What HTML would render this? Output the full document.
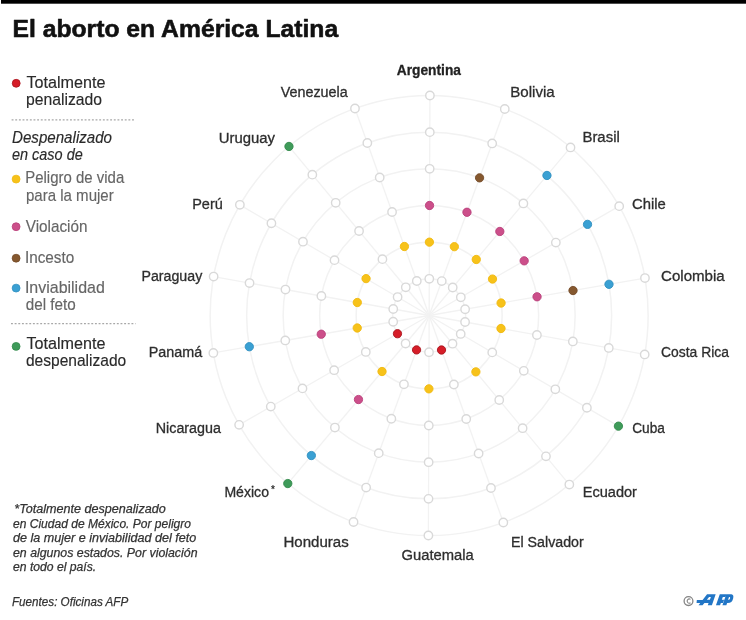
<!DOCTYPE html><html><head><meta charset="utf-8"><style>html,body{margin:0;padding:0;background:#fff;width:746px;height:620px;overflow:hidden}svg{display:block;filter:blur(0.4px);font-family:"Liberation Sans",sans-serif}</style></head><body>
<svg width="746" height="620" viewBox="0 0 746 620">
<rect x="0" y="0" width="746" height="620" fill="#fff"/>
<rect x="1" y="0" width="745" height="3.7" fill="#000"/>
<text x="12.48" y="37.2" font-size="24.6" font-weight="bold" fill="#111" stroke="#111" stroke-width="0.6" stroke-linejoin="round" textLength="325.72" lengthAdjust="spacingAndGlyphs">El aborto en América Latina</text>
<ellipse cx="429.15" cy="315.5" rx="36.50" ry="36.67" fill="none" stroke="#f2f2f2" stroke-width="1.5"/>
<ellipse cx="429.15" cy="315.5" rx="73.00" ry="73.34" fill="none" stroke="#f2f2f2" stroke-width="1.5"/>
<ellipse cx="429.15" cy="315.5" rx="109.50" ry="110.01" fill="none" stroke="#f2f2f2" stroke-width="1.5"/>
<ellipse cx="429.15" cy="315.5" rx="146.00" ry="146.68" fill="none" stroke="#f2f2f2" stroke-width="1.5"/>
<ellipse cx="429.15" cy="315.5" rx="182.50" ry="183.35" fill="none" stroke="#f2f2f2" stroke-width="1.5"/>
<ellipse cx="429.15" cy="315.5" rx="219.00" ry="220.02" fill="none" stroke="#f2f2f2" stroke-width="1.5"/>
<line x1="429.15" y1="315.5" x2="429.91" y2="95.48" stroke="#f2f2f2" stroke-width="1.3"/>
<line x1="429.15" y1="315.5" x2="504.77" y2="109.01" stroke="#f2f2f2" stroke-width="1.3"/>
<line x1="429.15" y1="315.5" x2="570.51" y2="147.45" stroke="#f2f2f2" stroke-width="1.3"/>
<line x1="429.15" y1="315.5" x2="619.19" y2="206.16" stroke="#f2f2f2" stroke-width="1.3"/>
<line x1="429.15" y1="315.5" x2="644.95" y2="278.05" stroke="#f2f2f2" stroke-width="1.3"/>
<line x1="429.15" y1="315.5" x2="644.69" y2="354.46" stroke="#f2f2f2" stroke-width="1.3"/>
<line x1="429.15" y1="315.5" x2="618.43" y2="426.17" stroke="#f2f2f2" stroke-width="1.3"/>
<line x1="429.15" y1="315.5" x2="569.33" y2="484.54" stroke="#f2f2f2" stroke-width="1.3"/>
<line x1="429.15" y1="315.5" x2="503.33" y2="522.51" stroke="#f2f2f2" stroke-width="1.3"/>
<line x1="429.15" y1="315.5" x2="428.39" y2="535.52" stroke="#f2f2f2" stroke-width="1.3"/>
<line x1="429.15" y1="315.5" x2="353.53" y2="521.99" stroke="#f2f2f2" stroke-width="1.3"/>
<line x1="429.15" y1="315.5" x2="287.79" y2="483.55" stroke="#f2f2f2" stroke-width="1.3"/>
<line x1="429.15" y1="315.5" x2="239.11" y2="424.84" stroke="#f2f2f2" stroke-width="1.3"/>
<line x1="429.15" y1="315.5" x2="213.35" y2="352.95" stroke="#f2f2f2" stroke-width="1.3"/>
<line x1="429.15" y1="315.5" x2="213.61" y2="276.54" stroke="#f2f2f2" stroke-width="1.3"/>
<line x1="429.15" y1="315.5" x2="239.87" y2="204.83" stroke="#f2f2f2" stroke-width="1.3"/>
<line x1="429.15" y1="315.5" x2="288.97" y2="146.46" stroke="#f2f2f2" stroke-width="1.3"/>
<line x1="429.15" y1="315.5" x2="354.97" y2="108.49" stroke="#f2f2f2" stroke-width="1.3"/>
<circle cx="429.28" cy="278.83" r="4.2" fill="#fff" stroke="#d9d9d9" stroke-width="1.4"/>
<circle cx="429.40" cy="242.16" r="4.15" fill="#f7c21a" stroke="#f0b90f" stroke-width="0.9"/>
<circle cx="429.53" cy="205.49" r="4.15" fill="#cc4f8a" stroke="#b9407a" stroke-width="0.9"/>
<circle cx="429.66" cy="168.82" r="4.2" fill="#fff" stroke="#d9d9d9" stroke-width="1.4"/>
<circle cx="429.79" cy="132.15" r="4.2" fill="#fff" stroke="#d9d9d9" stroke-width="1.4"/>
<circle cx="429.91" cy="95.48" r="4.2" fill="#fff" stroke="#d9d9d9" stroke-width="1.4"/>
<circle cx="441.75" cy="281.09" r="4.2" fill="#fff" stroke="#d9d9d9" stroke-width="1.4"/>
<circle cx="454.36" cy="246.67" r="4.15" fill="#f7c21a" stroke="#f0b90f" stroke-width="0.9"/>
<circle cx="466.96" cy="212.26" r="4.15" fill="#cc4f8a" stroke="#b9407a" stroke-width="0.9"/>
<circle cx="479.56" cy="177.84" r="4.15" fill="#85582f" stroke="#744a27" stroke-width="0.9"/>
<circle cx="492.17" cy="143.43" r="4.2" fill="#fff" stroke="#d9d9d9" stroke-width="1.4"/>
<circle cx="504.77" cy="109.01" r="4.2" fill="#fff" stroke="#d9d9d9" stroke-width="1.4"/>
<circle cx="452.71" cy="287.49" r="4.2" fill="#fff" stroke="#d9d9d9" stroke-width="1.4"/>
<circle cx="476.27" cy="259.48" r="4.15" fill="#f7c21a" stroke="#f0b90f" stroke-width="0.9"/>
<circle cx="499.83" cy="231.47" r="4.15" fill="#cc4f8a" stroke="#b9407a" stroke-width="0.9"/>
<circle cx="523.39" cy="203.47" r="4.2" fill="#fff" stroke="#d9d9d9" stroke-width="1.4"/>
<circle cx="546.95" cy="175.46" r="4.15" fill="#3aa0d3" stroke="#2f8fc0" stroke-width="0.9"/>
<circle cx="570.51" cy="147.45" r="4.2" fill="#fff" stroke="#d9d9d9" stroke-width="1.4"/>
<circle cx="460.82" cy="297.28" r="4.2" fill="#fff" stroke="#d9d9d9" stroke-width="1.4"/>
<circle cx="492.50" cy="279.05" r="4.15" fill="#f7c21a" stroke="#f0b90f" stroke-width="0.9"/>
<circle cx="524.17" cy="260.83" r="4.15" fill="#cc4f8a" stroke="#b9407a" stroke-width="0.9"/>
<circle cx="555.84" cy="242.60" r="4.2" fill="#fff" stroke="#d9d9d9" stroke-width="1.4"/>
<circle cx="587.52" cy="224.38" r="4.15" fill="#3aa0d3" stroke="#2f8fc0" stroke-width="0.9"/>
<circle cx="619.19" cy="206.16" r="4.2" fill="#fff" stroke="#d9d9d9" stroke-width="1.4"/>
<circle cx="465.12" cy="309.26" r="4.2" fill="#fff" stroke="#d9d9d9" stroke-width="1.4"/>
<circle cx="501.08" cy="303.02" r="4.15" fill="#f7c21a" stroke="#f0b90f" stroke-width="0.9"/>
<circle cx="537.05" cy="296.78" r="4.15" fill="#cc4f8a" stroke="#b9407a" stroke-width="0.9"/>
<circle cx="573.02" cy="290.53" r="4.15" fill="#85582f" stroke="#744a27" stroke-width="0.9"/>
<circle cx="608.99" cy="284.29" r="4.15" fill="#3aa0d3" stroke="#2f8fc0" stroke-width="0.9"/>
<circle cx="644.95" cy="278.05" r="4.2" fill="#fff" stroke="#d9d9d9" stroke-width="1.4"/>
<circle cx="465.07" cy="321.99" r="4.2" fill="#fff" stroke="#d9d9d9" stroke-width="1.4"/>
<circle cx="501.00" cy="328.49" r="4.15" fill="#f7c21a" stroke="#f0b90f" stroke-width="0.9"/>
<circle cx="536.92" cy="334.98" r="4.2" fill="#fff" stroke="#d9d9d9" stroke-width="1.4"/>
<circle cx="572.84" cy="341.47" r="4.2" fill="#fff" stroke="#d9d9d9" stroke-width="1.4"/>
<circle cx="608.77" cy="347.97" r="4.2" fill="#fff" stroke="#d9d9d9" stroke-width="1.4"/>
<circle cx="644.69" cy="354.46" r="4.2" fill="#fff" stroke="#d9d9d9" stroke-width="1.4"/>
<circle cx="460.70" cy="333.95" r="4.2" fill="#fff" stroke="#d9d9d9" stroke-width="1.4"/>
<circle cx="492.24" cy="352.39" r="4.2" fill="#fff" stroke="#d9d9d9" stroke-width="1.4"/>
<circle cx="523.79" cy="370.84" r="4.2" fill="#fff" stroke="#d9d9d9" stroke-width="1.4"/>
<circle cx="555.33" cy="389.28" r="4.2" fill="#fff" stroke="#d9d9d9" stroke-width="1.4"/>
<circle cx="586.88" cy="407.73" r="4.2" fill="#fff" stroke="#d9d9d9" stroke-width="1.4"/>
<circle cx="618.43" cy="426.17" r="4.15" fill="#3f9b5a" stroke="#338a4c" stroke-width="0.9"/>
<circle cx="452.51" cy="343.67" r="4.2" fill="#fff" stroke="#d9d9d9" stroke-width="1.4"/>
<circle cx="475.88" cy="371.85" r="4.15" fill="#f7c21a" stroke="#f0b90f" stroke-width="0.9"/>
<circle cx="499.24" cy="400.02" r="4.2" fill="#fff" stroke="#d9d9d9" stroke-width="1.4"/>
<circle cx="522.61" cy="428.19" r="4.2" fill="#fff" stroke="#d9d9d9" stroke-width="1.4"/>
<circle cx="545.97" cy="456.36" r="4.2" fill="#fff" stroke="#d9d9d9" stroke-width="1.4"/>
<circle cx="569.33" cy="484.54" r="4.2" fill="#fff" stroke="#d9d9d9" stroke-width="1.4"/>
<circle cx="441.51" cy="350.00" r="4.15" fill="#d61d28" stroke="#a8141d" stroke-width="0.9"/>
<circle cx="453.88" cy="384.50" r="4.2" fill="#fff" stroke="#d9d9d9" stroke-width="1.4"/>
<circle cx="466.24" cy="419.01" r="4.2" fill="#fff" stroke="#d9d9d9" stroke-width="1.4"/>
<circle cx="478.61" cy="453.51" r="4.2" fill="#fff" stroke="#d9d9d9" stroke-width="1.4"/>
<circle cx="490.97" cy="488.01" r="4.2" fill="#fff" stroke="#d9d9d9" stroke-width="1.4"/>
<circle cx="503.33" cy="522.51" r="4.2" fill="#fff" stroke="#d9d9d9" stroke-width="1.4"/>
<circle cx="429.02" cy="352.17" r="4.2" fill="#fff" stroke="#d9d9d9" stroke-width="1.4"/>
<circle cx="428.90" cy="388.84" r="4.15" fill="#f7c21a" stroke="#f0b90f" stroke-width="0.9"/>
<circle cx="428.77" cy="425.51" r="4.2" fill="#fff" stroke="#d9d9d9" stroke-width="1.4"/>
<circle cx="428.64" cy="462.18" r="4.2" fill="#fff" stroke="#d9d9d9" stroke-width="1.4"/>
<circle cx="428.51" cy="498.85" r="4.2" fill="#fff" stroke="#d9d9d9" stroke-width="1.4"/>
<circle cx="428.39" cy="535.52" r="4.2" fill="#fff" stroke="#d9d9d9" stroke-width="1.4"/>
<circle cx="416.55" cy="349.91" r="4.15" fill="#d61d28" stroke="#a8141d" stroke-width="0.9"/>
<circle cx="403.94" cy="384.33" r="4.2" fill="#fff" stroke="#d9d9d9" stroke-width="1.4"/>
<circle cx="391.34" cy="418.74" r="4.2" fill="#fff" stroke="#d9d9d9" stroke-width="1.4"/>
<circle cx="378.74" cy="453.16" r="4.2" fill="#fff" stroke="#d9d9d9" stroke-width="1.4"/>
<circle cx="366.13" cy="487.57" r="4.2" fill="#fff" stroke="#d9d9d9" stroke-width="1.4"/>
<circle cx="353.53" cy="521.99" r="4.2" fill="#fff" stroke="#d9d9d9" stroke-width="1.4"/>
<circle cx="405.59" cy="343.51" r="4.2" fill="#fff" stroke="#d9d9d9" stroke-width="1.4"/>
<circle cx="382.03" cy="371.52" r="4.15" fill="#f7c21a" stroke="#f0b90f" stroke-width="0.9"/>
<circle cx="358.47" cy="399.53" r="4.15" fill="#cc4f8a" stroke="#b9407a" stroke-width="0.9"/>
<circle cx="334.91" cy="427.53" r="4.2" fill="#fff" stroke="#d9d9d9" stroke-width="1.4"/>
<circle cx="311.35" cy="455.54" r="4.15" fill="#3aa0d3" stroke="#2f8fc0" stroke-width="0.9"/>
<circle cx="287.79" cy="483.55" r="4.15" fill="#3f9b5a" stroke="#338a4c" stroke-width="0.9"/>
<circle cx="397.48" cy="333.72" r="4.15" fill="#d61d28" stroke="#a8141d" stroke-width="0.9"/>
<circle cx="365.80" cy="351.95" r="4.2" fill="#fff" stroke="#d9d9d9" stroke-width="1.4"/>
<circle cx="334.13" cy="370.17" r="4.2" fill="#fff" stroke="#d9d9d9" stroke-width="1.4"/>
<circle cx="302.46" cy="388.40" r="4.2" fill="#fff" stroke="#d9d9d9" stroke-width="1.4"/>
<circle cx="270.78" cy="406.62" r="4.2" fill="#fff" stroke="#d9d9d9" stroke-width="1.4"/>
<circle cx="239.11" cy="424.84" r="4.2" fill="#fff" stroke="#d9d9d9" stroke-width="1.4"/>
<circle cx="393.18" cy="321.74" r="4.2" fill="#fff" stroke="#d9d9d9" stroke-width="1.4"/>
<circle cx="357.22" cy="327.98" r="4.15" fill="#f7c21a" stroke="#f0b90f" stroke-width="0.9"/>
<circle cx="321.25" cy="334.22" r="4.15" fill="#cc4f8a" stroke="#b9407a" stroke-width="0.9"/>
<circle cx="285.28" cy="340.47" r="4.2" fill="#fff" stroke="#d9d9d9" stroke-width="1.4"/>
<circle cx="249.31" cy="346.71" r="4.15" fill="#3aa0d3" stroke="#2f8fc0" stroke-width="0.9"/>
<circle cx="213.35" cy="352.95" r="4.2" fill="#fff" stroke="#d9d9d9" stroke-width="1.4"/>
<circle cx="393.23" cy="309.01" r="4.2" fill="#fff" stroke="#d9d9d9" stroke-width="1.4"/>
<circle cx="357.30" cy="302.51" r="4.15" fill="#f7c21a" stroke="#f0b90f" stroke-width="0.9"/>
<circle cx="321.38" cy="296.02" r="4.2" fill="#fff" stroke="#d9d9d9" stroke-width="1.4"/>
<circle cx="285.46" cy="289.53" r="4.2" fill="#fff" stroke="#d9d9d9" stroke-width="1.4"/>
<circle cx="249.53" cy="283.03" r="4.2" fill="#fff" stroke="#d9d9d9" stroke-width="1.4"/>
<circle cx="213.61" cy="276.54" r="4.2" fill="#fff" stroke="#d9d9d9" stroke-width="1.4"/>
<circle cx="397.60" cy="297.05" r="4.2" fill="#fff" stroke="#d9d9d9" stroke-width="1.4"/>
<circle cx="366.06" cy="278.61" r="4.15" fill="#f7c21a" stroke="#f0b90f" stroke-width="0.9"/>
<circle cx="334.51" cy="260.16" r="4.2" fill="#fff" stroke="#d9d9d9" stroke-width="1.4"/>
<circle cx="302.97" cy="241.72" r="4.2" fill="#fff" stroke="#d9d9d9" stroke-width="1.4"/>
<circle cx="271.42" cy="223.27" r="4.2" fill="#fff" stroke="#d9d9d9" stroke-width="1.4"/>
<circle cx="239.87" cy="204.83" r="4.2" fill="#fff" stroke="#d9d9d9" stroke-width="1.4"/>
<circle cx="405.79" cy="287.33" r="4.2" fill="#fff" stroke="#d9d9d9" stroke-width="1.4"/>
<circle cx="382.42" cy="259.15" r="4.2" fill="#fff" stroke="#d9d9d9" stroke-width="1.4"/>
<circle cx="359.06" cy="230.98" r="4.2" fill="#fff" stroke="#d9d9d9" stroke-width="1.4"/>
<circle cx="335.69" cy="202.81" r="4.2" fill="#fff" stroke="#d9d9d9" stroke-width="1.4"/>
<circle cx="312.33" cy="174.64" r="4.2" fill="#fff" stroke="#d9d9d9" stroke-width="1.4"/>
<circle cx="288.97" cy="146.46" r="4.15" fill="#3f9b5a" stroke="#338a4c" stroke-width="0.9"/>
<circle cx="416.79" cy="281.00" r="4.2" fill="#fff" stroke="#d9d9d9" stroke-width="1.4"/>
<circle cx="404.42" cy="246.50" r="4.15" fill="#f7c21a" stroke="#f0b90f" stroke-width="0.9"/>
<circle cx="392.06" cy="211.99" r="4.2" fill="#fff" stroke="#d9d9d9" stroke-width="1.4"/>
<circle cx="379.69" cy="177.49" r="4.2" fill="#fff" stroke="#d9d9d9" stroke-width="1.4"/>
<circle cx="367.33" cy="142.99" r="4.2" fill="#fff" stroke="#d9d9d9" stroke-width="1.4"/>
<circle cx="354.97" cy="108.49" r="4.2" fill="#fff" stroke="#d9d9d9" stroke-width="1.4"/>
<text x="396.76" y="75.2" font-size="14.7" font-weight="bold" fill="#222" stroke="#222" stroke-width="0.3" textLength="64.2" lengthAdjust="spacingAndGlyphs">Argentina</text>
<text x="510.18" y="97.0" font-size="14.7" fill="#2e2e2e" stroke="#2e2e2e" stroke-width="0.3" textLength="44.54" lengthAdjust="spacingAndGlyphs">Bolivia</text>
<text x="582.44" y="142.4" font-size="14.7" fill="#2e2e2e" stroke="#2e2e2e" stroke-width="0.3" textLength="37.34" lengthAdjust="spacingAndGlyphs">Brasil</text>
<text x="631.98" y="208.5" font-size="14.7" fill="#2e2e2e" stroke="#2e2e2e" stroke-width="0.3" textLength="33.8" lengthAdjust="spacingAndGlyphs">Chile</text>
<text x="661.0" y="281.3" font-size="14.7" fill="#2e2e2e" stroke="#2e2e2e" stroke-width="0.3" textLength="63.74" lengthAdjust="spacingAndGlyphs">Colombia</text>
<text x="660.98" y="357.4" font-size="14.7" fill="#2e2e2e" stroke="#2e2e2e" stroke-width="0.3" textLength="68.02" lengthAdjust="spacingAndGlyphs">Costa Rica</text>
<text x="632.22" y="432.7" font-size="14.7" fill="#2e2e2e" stroke="#2e2e2e" stroke-width="0.3" textLength="32.74" lengthAdjust="spacingAndGlyphs">Cuba</text>
<text x="582.7" y="497.3" font-size="14.7" fill="#2e2e2e" stroke="#2e2e2e" stroke-width="0.3" textLength="54.28" lengthAdjust="spacingAndGlyphs">Ecuador</text>
<text x="510.98" y="547.0" font-size="14.7" fill="#2e2e2e" stroke="#2e2e2e" stroke-width="0.3" textLength="72.76" lengthAdjust="spacingAndGlyphs">El Salvador</text>
<text x="401.48" y="560.2" font-size="14.7" fill="#2e2e2e" stroke="#2e2e2e" stroke-width="0.3" textLength="72.26" lengthAdjust="spacingAndGlyphs">Guatemala</text>
<text x="283.44" y="547.0" font-size="14.7" fill="#2e2e2e" stroke="#2e2e2e" stroke-width="0.3" textLength="65.32" lengthAdjust="spacingAndGlyphs">Honduras</text>
<text x="224.4" y="497.1" font-size="14.7" fill="#2e2e2e" stroke="#2e2e2e" stroke-width="0.3" textLength="44.6" lengthAdjust="spacingAndGlyphs">México</text>
<text x="155.72" y="432.7" font-size="14.7" fill="#2e2e2e" stroke="#2e2e2e" stroke-width="0.3" textLength="65.24" lengthAdjust="spacingAndGlyphs">Nicaragua</text>
<text x="148.7" y="356.9" font-size="14.7" fill="#2e2e2e" stroke="#2e2e2e" stroke-width="0.3" textLength="53.54" lengthAdjust="spacingAndGlyphs">Panamá</text>
<text x="141.48" y="281.1" font-size="14.7" fill="#2e2e2e" stroke="#2e2e2e" stroke-width="0.3" textLength="60.76" lengthAdjust="spacingAndGlyphs">Paraguay</text>
<text x="192.2" y="208.5" font-size="14.7" fill="#2e2e2e" stroke="#2e2e2e" stroke-width="0.3" textLength="30.6" lengthAdjust="spacingAndGlyphs">Perú</text>
<text x="218.7" y="142.7" font-size="14.7" fill="#2e2e2e" stroke="#2e2e2e" stroke-width="0.3" textLength="56.28" lengthAdjust="spacingAndGlyphs">Uruguay</text>
<text x="280.74" y="96.9" font-size="14.7" fill="#2e2e2e" stroke="#2e2e2e" stroke-width="0.3" textLength="66.98" lengthAdjust="spacingAndGlyphs">Venezuela</text>
<text x="271.0" y="492.8" font-size="10" font-weight="bold" fill="#333">*</text>
<circle cx="16.2" cy="83.3" r="3.95" fill="#d61d28" stroke="#a8141d" stroke-width="0.8"/>
<circle cx="16.1" cy="179.1" r="3.95" fill="#f7c21a" stroke="#f0b90f" stroke-width="0.8"/>
<circle cx="16.1" cy="226.7" r="3.95" fill="#cc4f8a" stroke="#b9407a" stroke-width="0.8"/>
<circle cx="16.1" cy="258.2" r="3.95" fill="#85582f" stroke="#744a27" stroke-width="0.8"/>
<circle cx="16.1" cy="288.1" r="3.95" fill="#3aa0d3" stroke="#2f8fc0" stroke-width="0.8"/>
<circle cx="16.1" cy="346.4" r="3.95" fill="#3f9b5a" stroke="#338a4c" stroke-width="0.8"/>
<text x="26.48" y="87.6" font-size="17" fill="#2a2a2a" stroke="#2a2a2a" stroke-width="0.15" textLength="79.04" lengthAdjust="spacingAndGlyphs">Totalmente</text>
<text x="25.98" y="105.2" font-size="17" fill="#2a2a2a" stroke="#2a2a2a" stroke-width="0.15" textLength="76.04" lengthAdjust="spacingAndGlyphs">penalizado</text>
<text x="12.0" y="142.8" font-size="17" font-style="italic" fill="#2a2a2a" stroke="#2a2a2a" stroke-width="0.15" textLength="100.02" lengthAdjust="spacingAndGlyphs">Despenalizado</text>
<text x="12.0" y="160.2" font-size="17" font-style="italic" fill="#2a2a2a" stroke="#2a2a2a" stroke-width="0.15" textLength="70.76" lengthAdjust="spacingAndGlyphs">en caso de</text>
<text x="25.18" y="183.3" font-size="17" fill="#666" stroke="#666" stroke-width="0.15" textLength="99.06" lengthAdjust="spacingAndGlyphs">Peligro de vida</text>
<text x="25.98" y="201.1" font-size="17" fill="#666" stroke="#666" stroke-width="0.15" textLength="87.76" lengthAdjust="spacingAndGlyphs">para la mujer</text>
<text x="25.74" y="231.7" font-size="17" fill="#666" stroke="#666" stroke-width="0.15" textLength="61.8" lengthAdjust="spacingAndGlyphs">Violación</text>
<text x="24.94" y="263.3" font-size="17" fill="#666" stroke="#666" stroke-width="0.15" textLength="49.34" lengthAdjust="spacingAndGlyphs">Incesto</text>
<text x="24.94" y="292.8" font-size="17" fill="#666" stroke="#666" stroke-width="0.15" textLength="79.84" lengthAdjust="spacingAndGlyphs">Inviabilidad</text>
<text x="25.74" y="310.2" font-size="17" fill="#666" stroke="#666" stroke-width="0.15" textLength="50.02" lengthAdjust="spacingAndGlyphs">del feto</text>
<text x="26.48" y="348.8" font-size="17" fill="#2a2a2a" stroke="#2a2a2a" stroke-width="0.15" textLength="79.04" lengthAdjust="spacingAndGlyphs">Totalmente</text>
<text x="25.98" y="366.1" font-size="17" fill="#2a2a2a" stroke="#2a2a2a" stroke-width="0.15" textLength="100.28" lengthAdjust="spacingAndGlyphs">despenalizado</text>
<line x1="11.6" y1="119.9" x2="135.6" y2="119.9" stroke="#a8a8a8" stroke-width="1.3" stroke-dasharray="1.9,1.75"/>
<line x1="11.0" y1="323.7" x2="135.6" y2="323.7" stroke="#a8a8a8" stroke-width="1.3" stroke-dasharray="1.9,1.75"/>
<text x="14.24" y="513.2" font-size="12.7" font-style="italic" fill="#333" stroke="#333" stroke-width="0.25" textLength="151.5" lengthAdjust="spacingAndGlyphs">*Totalmente despenalizado</text>
<text x="13.0" y="527.7" font-size="12.7" font-style="italic" fill="#333" stroke="#333" stroke-width="0.25" textLength="177.98" lengthAdjust="spacingAndGlyphs">en Ciudad de México. Por peligro</text>
<text x="13.0" y="542.2" font-size="12.7" font-style="italic" fill="#333" stroke="#333" stroke-width="0.25" textLength="183.22" lengthAdjust="spacingAndGlyphs">de la mujer e inviabilidad del feto</text>
<text x="13.0" y="556.7" font-size="12.7" font-style="italic" fill="#333" stroke="#333" stroke-width="0.25" textLength="184.5" lengthAdjust="spacingAndGlyphs">en algunos estados. Por violación</text>
<text x="13.0" y="571.3" font-size="12.7" font-style="italic" fill="#333" stroke="#333" stroke-width="0.25" textLength="83.08" lengthAdjust="spacingAndGlyphs">en todo el país.</text>
<text x="12.0" y="605.7" font-size="12.7" font-style="italic" fill="#333" stroke="#333" stroke-width="0.25" textLength="116.22" lengthAdjust="spacingAndGlyphs">Fuentes: Oficinas AFP</text>
<circle cx="688.5" cy="601.1" r="4.4" fill="none" stroke="#858585" stroke-width="1.3"/><path d="M690.5,599.4 A2.1,2.1 0 1 0 690.5,602.8" fill="none" stroke="#858585" stroke-width="1.1"/><g transform="translate(694,590) scale(0.0563)" fill="#2276c6" fill-rule="evenodd"><path d="M80,272 L232,75 L385,75 L318,272 L245,272 L259,232 L185,232 L152,272 Z M228,175 L282,175 L300,125 L268,125 Z"/><path d="M50,178 L230,178 L205,232 L45,232 Z"/><path d="M390,272 L458,75 L575,75 L560,125 L512,125 L494,175 L535,175 L515,232 L477,232 L463,272 Z"/><path d="M505,272 L573,75 L665,75 Q712,80 695,152 Q678,232 600,232 L588,232 L575,272 Z M605,175 L612,175 Q636,175 641,150 Q646,125 628,125 L622,125 Z"/></g>
</svg></body></html>
